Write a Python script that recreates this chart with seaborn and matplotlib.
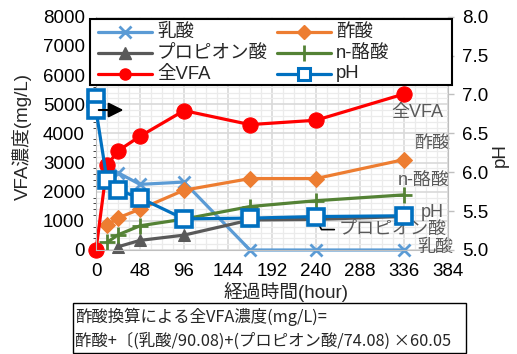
import matplotlib
matplotlib.use("Agg")
import matplotlib.pyplot as plt
import seaborn as sns
import pandas as pd
from matplotlib.lines import Line2D
from matplotlib.patches import Rectangle
from matplotlib.ticker import MultipleLocator

sns.set_style("white")
plt.rcParams['font.family'] = ['Liberation Sans', 'Noto Sans CJK JP', 'DejaVu Sans']

# ---- data ----
hours_vfa = [0, 12, 24, 48, 96, 168, 240, 336]
total_vfa = [0, 2900, 3400, 3900, 4780, 4300, 4450, 5350]

hours_acid = [12, 24, 48, 96, 168, 240, 336]
lactic = [2500, 2650, 2250, 2330, 0, 0, 0]
acetic = [850, 1100, 1400, 2050, 2450, 2450, 3100]
butyric = [260, 520, 830, 1060, 1490, 1690, 1890]

hours_prop = [24, 48, 96, 168, 240, 336]
propionic = [110, 330, 510, 1030, 1050, 1150]

hours_ph = [0, 0, 12, 24, 48, 96, 168, 240, 336]
ph = [6.95, 6.80, 5.90, 5.77, 5.67, 5.40, 5.41, 5.43, 5.44]

x_ticks = [0, 48, 96, 144, 192, 240, 288, 336, 384]
y_ticks = [0, 1000, 2000, 3000, 4000, 5000, 6000, 7000, 8000]
ph_ticks = [5.0, 5.5, 6.0, 6.5, 7.0, 7.5, 8.0]

names = ["乳酸", "酢酸", "プロピオン酸", "n-酪酸", "全VFA", "pH"]
colors = {"乳酸": "#5B9BD5", "酢酸": "#ED7D31", "プロピオン酸": "#595959",
          "n-酪酸": "#548235", "全VFA": "#FF0000", "pH": "#0070C0"}

W, H = 517, 354
fig = plt.figure(figsize=(W / 100, H / 100), dpi=100)
ax = fig.add_axes([96 / W, 1 - 250 / H, 352 / W, 233.3 / H])
ax2 = ax.twinx()

FS = 13.5
gray_txt = "#595959"

# grid
ax.set_xlim(0, 384)
ax.set_ylim(0, 8000)
ax.set_xticks(x_ticks)
ax.set_yticks(y_ticks)
ax.xaxis.set_minor_locator(MultipleLocator(12))
ax.yaxis.set_minor_locator(MultipleLocator(200))
ax.grid(which='major', color='#D9D9D9', lw=1.2)
ax.grid(which='minor', color='#EBEBEB', lw=0.9)
ax.set_axisbelow(True)

lw = 2.3
common = dict(lw=lw, clip_on=False)

sns.lineplot(x=hours_acid, y=lactic, ax=ax, color=colors["乳酸"], marker='x',
             markersize=9, mew=2.0, mec=colors["乳酸"], **common)
sns.lineplot(x=hours_acid, y=acetic, ax=ax, color=colors["酢酸"], marker='D',
             markersize=8, mec=colors["酢酸"], **common)
sns.lineplot(x=hours_prop, y=propionic, ax=ax, color=colors["プロピオン酸"], marker='^',
             markersize=9, mec=colors["プロピオン酸"], **common)
sns.lineplot(x=hours_acid, y=butyric, ax=ax, color=colors["n-酪酸"], marker='+',
             markersize=12, mew=2.0, mec=colors["n-酪酸"], **common)
sns.lineplot(x=hours_vfa, y=total_vfa, ax=ax, color=colors["全VFA"], marker='o',
             markersize=11, mec=colors["全VFA"], **common)

sns.lineplot(x=hours_ph, y=ph, ax=ax2, color=colors["pH"], marker='s', markersize=12,
             mfc='white', mec=colors["pH"], mew=2.6, sort=False, estimator=None, **common)
ax2.set_ylim(5.0, 8.0)
ax2.set_yticks(ph_ticks)
ax2.set_yticklabels([f"{v:.1f}" for v in ph_ticks])

for a in (ax, ax2):
    for s in a.spines.values():
        s.set_visible(False)
    a.set_xlabel("")
    a.set_ylabel("")
    a.tick_params(labelsize=FS, colors='#000000', length=0)
ax.tick_params(axis='x', pad=9)
ax.tick_params(axis='y', pad=8)
ax.spines['left'].set_visible(True)
ax.spines['left'].set_color('#BFBFBF')
ax.spines['bottom'].set_visible(True)
ax.spines['bottom'].set_color('#BFBFBF')
ax2.spines['right'].set_visible(True)
ax2.spines['right'].set_color('#BFBFBF')
ax2.tick_params(axis='y', length=4, color='#BFBFBF', width=1, pad=6)

# arrow at pH start
ax2.annotate("", xy=(33, 6.80), xytext=(0, 6.80),
             arrowprops=dict(arrowstyle='-|>,head_length=0.9,head_width=0.45',
                             color='black', lw=1.5), zorder=5)

# series labels on the right
lab = dict(fontsize=13, color=gray_txt, ha='center', va='center')
ax.text(351, 4700, "全VFA", **lab)
ax.text(367, 3640, "酢酸", **lab)
ax.text(357, 2400, "n-酪酸", **lab)
ax.text(367, 1270, "pH", **lab)
ax.text(324, 690, "プロピオン酸", **lab)
ax.text(370, 100, "乳酸", **lab)
ax.plot([241, 246, 260], [1010, 700, 700], color='black', lw=1.2)

# legend, laid out in figure pixels (Excel style: fixed box, two columns)
leg_styles = {
    "乳酸": dict(marker='x', markersize=9, mew=2),
    "酢酸": dict(marker='D', markersize=7),
    "プロピオン酸": dict(marker='^', markersize=8),
    "n-酪酸": dict(marker='+', markersize=11, mew=2),
    "全VFA": dict(marker='o', markersize=8),
    "pH": dict(marker='s', markersize=9, mfc='white', mew=2.2),
}
frame = Rectangle((90 / W, 1 - 85 / H), 362 / W, 66 / H, transform=fig.transFigure,
                  facecolor='white', edgecolor='black', lw=1.5, zorder=19, clip_on=False)
ax2.add_patch(frame)
col_x = [98, 277]
row_y = [32, 53, 74]
order = [["乳酸", "プロピオン酸", "全VFA"], ["酢酸", "n-酪酸", "pH"]]
for ci, col in enumerate(order):
    for ri, name in enumerate(col):
        x0, y0 = col_x[ci], row_y[ri]
        yf = 1 - y0 / H
        ax2.add_line(Line2D([x0 / W, (x0 + 54) / W], [yf, yf], transform=fig.transFigure,
                            color=colors[name], lw=lw, zorder=20, clip_on=False))
        st = leg_styles[name]
        ax2.add_line(Line2D([(x0 + 27) / W], [yf], transform=fig.transFigure,
                            color=colors[name], lw=0, mec=colors[name], zorder=21,
                            clip_on=False, **st))
        ax2.text((x0 + 59) / W, yf, name, transform=fig.transFigure, fontsize=13.3,
                 ha='left', va='center', zorder=21)

# axis titles
fig.text(22 / W, 1 - 136 / H, "VFA濃度(mg/L)", rotation=90, fontsize=13.5,
         ha='center', va='center')
fig.text(500 / W, 1 - 155 / H, "pH", rotation=90, fontsize=13.5,
         ha='center', va='center')
fig.text(286 / W, 1 - 292 / H, "経過時間(hour)", fontsize=13.5,
         ha='center', va='center')

# formula box
fig.patches.append(Rectangle((73 / W, 1 - 353 / H), 393 / W, 50 / H,
                             transform=fig.transFigure, fill=False,
                             edgecolor='black', lw=1.0))
ftxt = dict(fontsize=11.8, ha='left', va='center', family=['Noto Sans CJK JP', 'DejaVu Sans'])
fig.text(75 / W, 1 - 317 / H, "酢酸換算による全VFA濃度(mg/L)=", **ftxt)
fig.text(75 / W, 1 - 341 / H, "酢酸+〔(乳酸/90.08)+(プロピオン酸/74.08) ×60.05", **ftxt)

fig.savefig("out.png", dpi=100)
